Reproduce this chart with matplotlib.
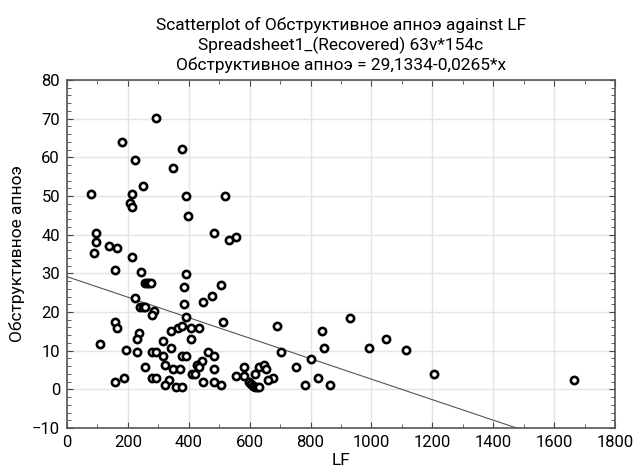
import numpy as np
import matplotlib
matplotlib.use("Agg")
import matplotlib.pyplot as plt
from matplotlib.ticker import MultipleLocator

plt.rcParams['font.family'] = ['Liberation Sans Narrow', 'Roboto', 'DejaVu Sans']

# LF values and matching Обструктивное апноэ values
lf = [292, 180, 378, 222, 349, 251, 80, 215, 392, 519, 207, 215, 398, 95, 483,
      95, 533, 555, 137, 165, 88, 215, 159, 243, 392, 255, 263, 270, 277, 384,
      505, 477, 448, 222, 384, 240, 248, 256, 287, 279, 392, 511, 159, 165, 237,
      343, 364, 378, 406, 435, 229, 314, 406, 108, 343, 194, 229, 279, 293, 463,
      314, 378, 392, 484, 442, 322, 427, 435, 257, 349, 371, 484, 412, 422, 582,
      555, 582, 618, 631, 187, 279, 293, 336, 159, 448, 484, 505, 322, 357, 378,
      597, 605, 612, 618, 625, 632, 689, 929, 838, 1049, 844, 993, 1114, 703, 802,
      753, 646, 654, 675, 661, 824, 782, 865, 1204, 1664]
apnea = [70.1, 63.9, 62.2, 59.4, 57.2, 52.7, 50.4, 50.4, 49.9, 49.9, 48.3, 47.1, 44.9, 40.4, 40.4,
         38.2, 38.7, 39.3, 37.1, 36.5, 35.3, 34.2, 30.9, 30.3, 29.7, 27.5, 27.5, 27.5, 27.5, 26.5,
         27.0, 24.1, 22.5, 23.6, 22.0, 21.2, 21.2, 21.2, 20.2, 19.1, 18.6, 17.5, 17.5, 15.8, 14.7,
         15.2, 15.8, 16.3, 15.8, 15.8, 12.9, 12.5, 12.9, 11.8, 10.8, 10.2, 9.6, 9.6, 9.6, 9.6,
         8.5, 8.5, 8.5, 8.5, 7.4, 6.3, 6.3, 5.7, 5.7, 5.2, 5.2, 5.2, 4.0, 4.0, 5.7,
         3.4, 3.4, 4.0, 5.7, 2.9, 2.9, 2.9, 2.4, 1.8, 1.8, 1.8, 1.2, 1.2, 0.7, 0.7,
         1.8, 1.3, 0.9, 0.7, 0.6, 0.6, 16.3, 18.5, 15.2, 12.9, 10.8, 10.8, 10.2, 9.6, 7.9,
         5.7, 6.3, 5.2, 2.9, 2.4, 2.9, 1.2, 1.2, 4.0, 2.3]

intercept = 29.1334
slope = -0.0265

title = ("Scatterplot of Обструктивное апноэ against LF\n"
         "Spreadsheet1_(Recovered) 63v*154c\n"
         "Обструктивное апноэ = 29,1334-0,0265*x")

fig = plt.figure(figsize=(6.34, 4.73), dpi=100)
ax = fig.add_axes([0.1057, 0.0951, 0.8643, 0.7358])

ax.grid(True, color='#e4e4e4', linewidth=1.0, zorder=0)
xl = np.array([0, 1800])
ax.plot(xl, intercept + slope * xl, color='#555555', linewidth=0.8, zorder=2)
ax.plot(lf, apnea, linestyle='none', marker='o', markersize=5.2,
        markerfacecolor='white', markeredgecolor='black', markeredgewidth=1.9, zorder=3)

ax.set_xlim(0, 1800)
ax.set_ylim(-10, 80)
ax.xaxis.set_major_locator(MultipleLocator(200))
ax.xaxis.set_minor_locator(MultipleLocator(100))
ax.yaxis.set_major_locator(MultipleLocator(10))
ax.yaxis.set_minor_locator(MultipleLocator(2))
ax.tick_params(which='both', direction='in', top=True, right=True, labelsize=12,
               color='#444444')
ax.tick_params(which='major', length=4, pad=5)
ax.tick_params(which='minor', length=3)
for s in ax.spines.values():
    s.set_color('#555555')
    s.set_linewidth(1.2)

ax.set_title(title, fontsize=12.5, linespacing=1.28, pad=7)
ax.set_ylabel("Обструктивное апноэ", fontsize=12.5, labelpad=5)
ax.set_xlabel("LF", fontsize=12.5, labelpad=2)

fig.savefig("out.png", dpi=100)
